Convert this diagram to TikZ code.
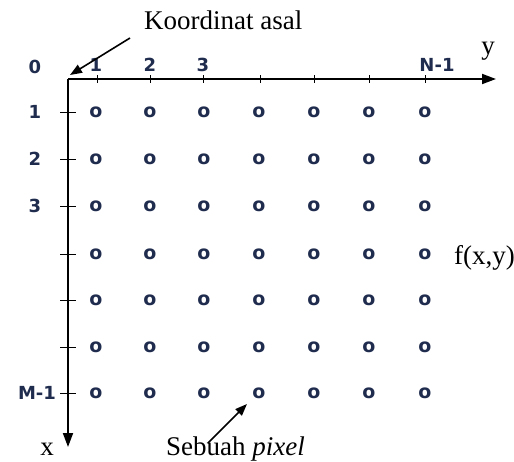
\documentclass[tikz,border=0pt]{standalone}
\usepackage{fontspec}
\setmainfont{Liberation Serif}
\newfontfamily\labelfont{DejaVu Sans}
\usetikzlibrary{arrows.meta}
\definecolor{navy}{RGB}{32,44,78}
\begin{document}
\begin{tikzpicture}[x=1pt,y=-1pt]
		\tikzstyle{every node}=[inner sep=0pt]
		\tikzstyle{idx}=[font=\labelfont\bfseries\fontsize{18pt}{21pt}\selectfont, text=navy]
		\tikzstyle{pix}=[font=\labelfont\bfseries\fontsize{19pt}{22pt}\selectfont, text=navy]
		\tikzstyle{txt}=[font=\fontsize{27pt}{31pt}\selectfont]
		\useasboundingbox (0,0) rectangle (514,461);
		
		% axes
		\coordinate (org) at (68,79);
		\coordinate (yend) at (496,79);
		\coordinate (xend) at (68,447);
		\draw[line width=1.8pt, -{Triangle[length=14pt,width=10pt]}] (org) -- (yend);
		\draw[line width=1.8pt, -{Triangle[length=14pt,width=10pt]}] (org) -- (xend);
		
		% ticks along y
		\foreach \c/\xx in {1/97,2/150,3/203,4/260,5/314,6/369,7/425}
			\draw[line width=1pt] (\xx,75) -- (\xx,83);
		% ticks along x
		\foreach \r/\yy in {1/112,2/159,3/206,4/254,5/300,6/347,7/393}
			\draw[line width=1pt] (60,\yy) -- (76,\yy);
		
		% pixel grid
		\foreach \r/\yy in {1/112,2/159,3/206,4/254,5/300,6/347,7/393}
			\foreach \c/\xx in {1/96,2/150,3/204,4/259,5/314,6/369,7/425}
				\node[pix] (p-\r-\c) at (\xx,\yy) {o};
		
		% index labels
		\node[idx] (n0) at (35,67) {0};
		\node[idx] (n1) at (96,65) {1};
		\node[idx] (n2) at (150,65) {2};
		\node[idx] (n3) at (203,65) {3};
		\node[idx] (nN) at (437,65) {N-1};
		\node[idx] (m1) at (35,112) {1};
		\node[idx] (m2) at (35,159) {2};
		\node[idx] (m3) at (35,206) {3};
		\node[idx] (mM) at (37,393) {M-1};
		
		\node[txt] (ylab) at (488,51) {y};
		\node[txt] (xlab) at (47,449) {x};
		\node[txt, anchor=west] (fxy) at (454,258) {f(x,y)};
		
		% callouts
		\node[txt, anchor=west] (asal) at (144,20) {Koordinat asal};
		\coordinate (asal-tail) at (130,38);
		\coordinate (asal-tip) at (70,75);
		\draw[line width=1.6pt, -{Triangle[length=12pt,width=9pt]}] (asal-tail) -- (asal-tip);
		
		\node[txt, anchor=west] (sebuah) at (166,449) {Sebuah \textit{pixel}};
		\draw[line width=1.6pt, -{Triangle[length=12pt,width=9pt]}] (208,443) -- (247,404);
		
	\end{tikzpicture}
\end{document}
